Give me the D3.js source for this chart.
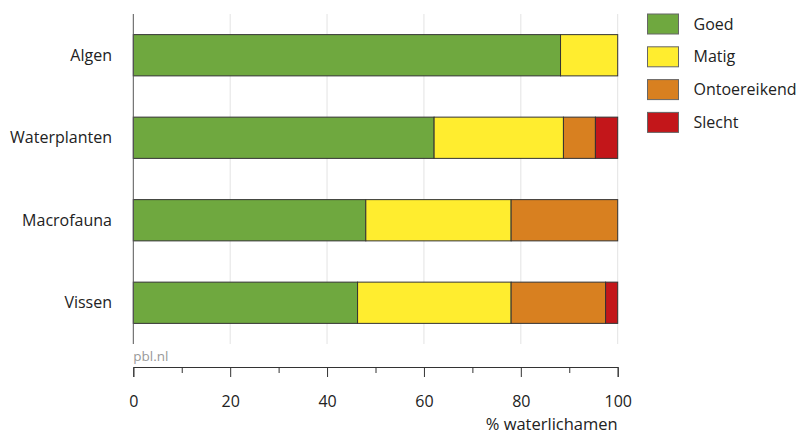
<!DOCTYPE html>
<html><head><meta charset="utf-8">
<script src="https://cdn.jsdelivr.net/npm/d3@7"></script>
<style>body{margin:0;background:#fff}svg{display:block}text{font-family:"Open Sans","Noto Sans",sans-serif}</style>
</head><body>
<svg id="c" width="798" height="435"></svg>
<script>
const categories = ["Algen","Waterplanten","Macrofauna","Vissen"];
const seriesNames = ["Goed","Matig","Ontoereikend","Slecht"];
const goed = [88.2, 62.1, 48.0, 46.3];
const matig = [11.8, 26.7, 30.0, 31.7];
const ontoereikend = [0, 6.6, 22.0, 19.5];
const slecht = [0, 4.6, 0, 2.5];
const colors = ["#6fa83f","#ffed2f","#d88020","#c3161a"];
const xTicks = [0,20,40,60,80,100];
const xLabel = "% waterlichamen";
const source = "pbl.nl";

const rows = categories.map((c,i)=>({cat:c, Goed:goed[i], Matig:matig[i], Ontoereikend:ontoereikend[i], Slecht:slecht[i]}));
const stack = d3.stack().keys(seriesNames)(rows);

const svg = d3.select("#c");
const x = d3.scaleLinear().domain([0,100]).range([133.3,617.7]);
const y = d3.scaleBand().domain(categories).range([14,344]).paddingInner(0.5).paddingOuter(0.25);

// gridlines
svg.append("g").selectAll("line").data(xTicks.slice(1)).join("line")
  .attr("x1",d=>x(d)).attr("x2",d=>x(d)).attr("y1",14).attr("y2",344)
  .attr("stroke","#e3e3e3").attr("stroke-width",1);

// bars
svg.append("g").selectAll("g").data(stack).join("g")
  .attr("fill",(d,i)=>colors[i])
  .selectAll("rect").data(d=>d.filter(p=>p[1]-p[0]>0)).join("rect")
  .attr("x",d=>x(d[0])).attr("width",d=>x(d[1])-x(d[0]))
  .attr("y",d=>y(d.data.cat)).attr("height",y.bandwidth())
  .attr("stroke","#333").attr("stroke-width",1);

// left axis line
svg.append("line").attr("x1",x(0)).attr("x2",x(0)).attr("y1",14).attr("y2",344)
  .attr("stroke","#555").attr("stroke-width",1);

// category labels
svg.append("g").selectAll("text").data(categories).join("text")
  .attr("x",112).attr("y",d=>y(d)+y.bandwidth()/2).attr("dy","0.35em")
  .attr("text-anchor","end").attr("font-size",16).attr("fill","#222").text(d=>d);

// bottom axis
const axisY = 367;
const gx = svg.append("g").attr("transform",`translate(0,${axisY})`)
  .call(d3.axisBottom(x).tickValues(xTicks).tickSize(10).tickPadding(19).tickFormat(d3.format("d")));
gx.select(".domain").attr("stroke","#333");
gx.selectAll(".tick line").attr("stroke","#333");
gx.selectAll("text").attr("font-size",16).attr("fill","#222").attr("font-family","'Open Sans',sans-serif");
svg.append("g").attr("transform",`translate(0,${axisY})`)
  .call(d3.axisBottom(x).tickValues([10,30,50,70,90]).tickSize(6).tickFormat(""))
  .call(g=>g.select(".domain").remove())
  .selectAll("line").attr("stroke","#333");

svg.append("text").attr("x",x(100)).attr("y",430).attr("text-anchor","end")
  .attr("font-size",16.5).attr("fill","#222").text(xLabel);
svg.append("text").attr("x",x(0)).attr("y",361)
  .attr("font-size",13.5).attr("fill","#999").text(source);

// legend
const lg = svg.append("g").selectAll("g").data(seriesNames).join("g")
  .attr("transform",(d,i)=>`translate(647.5,${14+i*32.8})`);
lg.append("rect").attr("width",31).attr("height",20).attr("fill",(d,i)=>colors[i])
  .attr("stroke","#666").attr("stroke-width",1);
lg.append("text").attr("x",46).attr("y",10).attr("dy","0.35em")
  .attr("font-size",16).attr("fill","#222").text(d=>d);
</script>
</body></html>
